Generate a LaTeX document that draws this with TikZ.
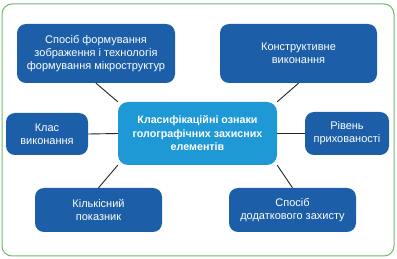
\documentclass[tikz,border=0pt]{standalone}
\usepackage{fontspec}
\setmainfont{Liberation Sans}
\usetikzlibrary{backgrounds}
\definecolor{darkbox}{HTML}{1C5FA8}
\definecolor{lightbox}{HTML}{1E99D6}
\definecolor{framegreen}{HTML}{6CBB6A}
\tikzset{
  item/.style={draw=none, fill=darkbox, rounded corners=9pt, text=white, align=center,
    inner sep=0pt, font=\fontsize{11}{13}\selectfont},
  hub/.style={draw=none, fill=lightbox, rounded corners=10pt, text=white, align=center,
    inner sep=0pt, font=\fontsize{10.7}{13.5}\selectfont\bfseries},
  link/.style={draw=black!85, line width=0.9pt}
}
\begin{document}
\begin{tikzpicture}[x=1pt,y=-1pt]
\useasboundingbox (0,0) rectangle (397,259);
\draw[framegreen, line width=1pt, rounded corners=10pt] (2,4) rectangle (394,256);
\node[hub, minimum width=159pt, minimum height=63pt] (c) at (197.5,133.5)
  {Класифікаційні ознаки\\голографічних захисних\\елементів};
\node[item, minimum width=158pt, minimum height=59pt] (tl) at (96,53.5)
  {Спосіб формування\\зображення і технологія\\формування мікроструктур};
\node[item, minimum width=157pt, minimum height=59pt] (tr) at (298.5,53.5)
  {Конструктивне\\виконання};
\node[item, minimum width=82pt, minimum height=42pt] (kl) at (47,134)
  {Клас\\виконання};
\node[item, minimum width=84pt, minimum height=43pt] (rv) at (347,133.5)
  {Рівень\\прихованості};
\node[item, minimum width=127pt, minimum height=44pt] (kp) at (98.5,210)
  {Кількісний\\показник};
\node[item, minimum width=127pt, minimum height=44pt] (dz) at (292.5,210)
  {Спосіб\\додаткового захисту};
\begin{scope}[on background layer]
\fill[white] (0,0) rectangle (397,259);
\draw[link] (tl.south) -- (c.north west);
\draw[link] (tr.south) -- (c.north east);
\draw[link] (kl.east) -- (c.west);
\draw[link] (rv.west) -- (c.east);
\draw[link] (kp.north) -- (c.south west);
\draw[link] (dz.north) -- (c.south east);
\end{scope}
\end{tikzpicture}
\end{document}
